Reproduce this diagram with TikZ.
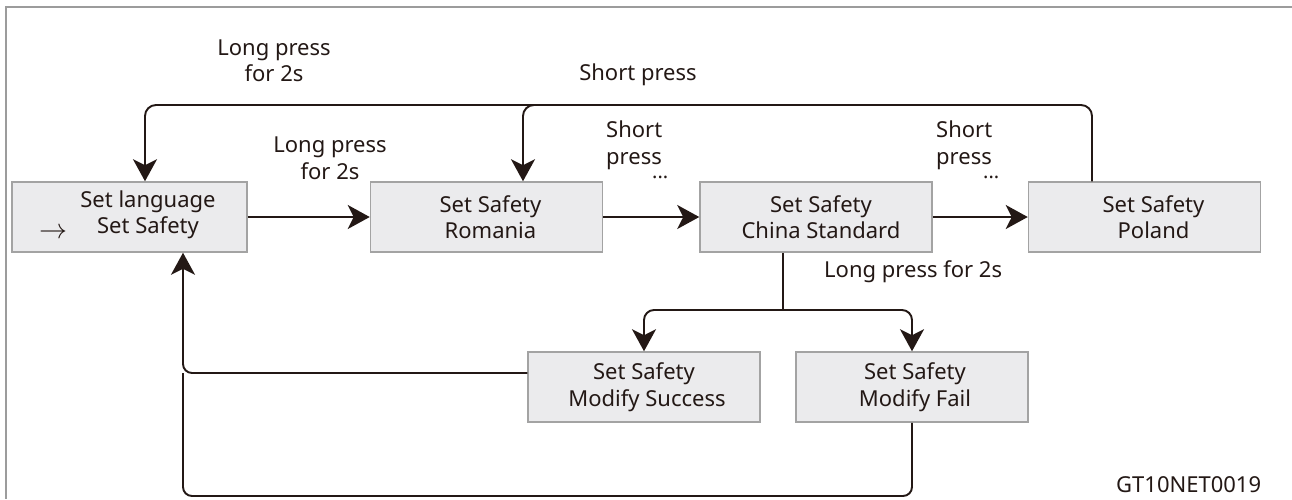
\documentclass[tikz,border=0pt]{standalone}
\usepackage{fontspec}
\setmainfont{Noto Sans}
\usetikzlibrary{arrows.meta,calc}
\definecolor{ink}{HTML}{231815}
\definecolor{boxfill}{HTML}{EBEBED}
\definecolor{boxline}{HTML}{A3A3A3}
\definecolor{frame}{HTML}{9C9C9C}
\begin{document}
\begin{tikzpicture}[x=1pt,y=-1pt,
  every node/.style={font=\fontsize{22}{26.5}\selectfont, text=ink},
  box/.style={draw=boxline, line width=1.5pt, fill=boxfill, minimum width=232pt, minimum height=70pt, inner sep=0pt, align=center},
  lbl/.style={align=center, inner sep=0pt},
  lbll/.style={align=left, inner sep=0pt, anchor=west},
  lblnw/.style={align=left, inner sep=0pt, anchor=north west},
  conn/.style={draw=ink, line width=1.9pt},
  arr/.style={conn, -{Stealth[length=22pt, width=24pt, inset=6pt]}}]
\useasboundingbox (0,0) rectangle (1292,499);
\draw[frame, line width=1.2pt] (1292,7) -- (6,7) -- (6,499);

% boxes
\node[box, minimum width=235pt] (b1) at (129.5,217) {};
\node[lbl] (t1) at (148,215) {Set language\\Set Safety};
\node[lbl] (ar) at (53,233) {\scalebox{1.35}{$\rightarrow$}};
\node[box] (b2) at (486.5,217) {\hspace*{8pt}Set Safety\\\hspace*{8pt}Romania};
\node[box] (b3) at (816,217) {\hspace*{10pt}Set Safety\\\hspace*{10pt}China Standard};
\node[box] (b4) at (1144.5,217) {\hspace*{18pt}Set Safety\\\hspace*{18pt}Poland};
\node[box] (b5) at (644,387) {Set Safety\\\hspace*{6pt}Modify Success};
\node[box] (b6) at (912,387) {\hspace*{6pt}Set Safety\\\hspace*{6pt}Modify Fail};

% labels
\node[lbl] (l1) at (274,61) {Long press\\for 2s};
\node[lbl] (l2) at (638,75) {Short press};
\node[lbl] (l3) at (330,158) {Long press\\for 2s};
\node[lblnw] (l4) at (606,121) {Short\\press\\[-12pt]\hspace*{46pt}{\fontsize{20}{20}\selectfont...}};
\node[lblnw] (l5) at (936,121) {Short\\press\\[-12pt]\hspace*{47pt}{\fontsize{20}{20}\selectfont...}};
\node[lbll] (l6) at (824,272) {Long press for 2s};
\node[lbll] (code) at (1116,485) {GT10NET0019};

% coordinates
\coordinate (p4) at (1092,105);
\coordinate (p1) at (145,105);
\coordinate (p2) at (523,105);
\coordinate (p2s) at (560,105);
\coordinate (j) at (783,310);
\coordinate (jl) at (644,310);
\coordinate (jr) at (912,310);
\coordinate (q) at (183,373);
\coordinate (r) at (183,496);

% connectors
\draw[arr] (b1.east) -- (b2.west);
\draw[arr] (b2.east) -- (b3.west);
\draw[arr] (b3.east) -- (b4.west);
\draw[arr, rounded corners=11pt] (b4.north -| p4) -- (p4) -- (p1) -- (b1.north -| p1);
\draw[arr, rounded corners=11pt] (p2s) -- (p2) -- (b2.north -| p2);
\draw[conn] (b3.south -| j) -- (j);
\draw[arr, rounded corners=10pt] (j) -- (jl) -- (b5.north);
\draw[arr, rounded corners=10pt] (j) -- (jr) -- (b6.north);
\draw[arr, rounded corners=9pt] (b5.west |- q) -- (q) -- (b1.south -| q);
\draw[conn, rounded corners=9pt] (b6.south) -- (b6.south |- r) -- (r) -- (q);
\end{tikzpicture}
\end{document}
